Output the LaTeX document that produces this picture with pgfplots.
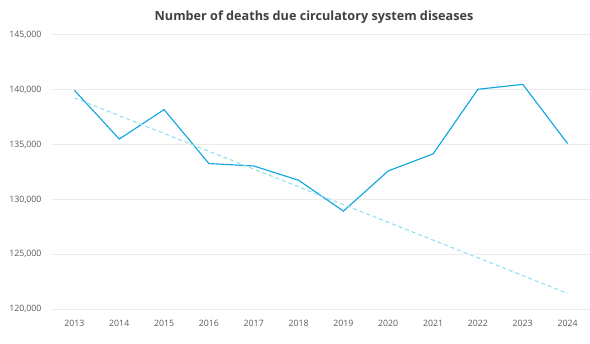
\documentclass[border=0pt]{standalone}
\usepackage{fontspec}
\setmainfont{Open Sans}
\usepackage{pgfplots}
\pgfplotsset{compat=1.18}
\definecolor{mainline}{HTML}{12A7DE}
\definecolor{trendline}{HTML}{8ADCF2}
\definecolor{gridgray}{HTML}{EBEBEB}
\definecolor{ticktext}{HTML}{595959}
\definecolor{titletext}{HTML}{404040}
\begin{document}
\begin{tikzpicture}[x=1bp,y=1bp]
\useasboundingbox (0,0) rectangle (590,343);
\begin{axis}[
  at={(52bp,33.7bp)}, anchor=south west,
  scale only axis,
  width=538bp, height=274.6bp,
  xmin=2012.5, xmax=2024.5,
  ymin=120000, ymax=145000,
  xtick={2013,...,2024},
  ytick={120000,125000,...,145000},
  axis line style={draw=none},
  major tick length=0pt,
  ymajorgrids, grid style={gridgray, line width=0.6pt},
  /pgf/number format/assume math mode=true,
  xticklabel style={font=\fontsize{8.8}{10}\selectfont, text=ticktext, /pgf/number format/1000 sep={}},
  yticklabel style={font=\fontsize{8.8}{10}\selectfont, text=ticktext, /pgf/number format/1000 sep={,}, /pgf/number format/fixed},
  scaled y ticks=false,
  xticklabel shift=7bp,
  yticklabel shift=7bp,
  clip=false,
]
% recorded yearly totals
\addplot[mainline, line width=1.15pt] coordinates {
  (2013,139940) (2014,135500) (2015,138180) (2016,133270) (2017,133050)
  (2018,131750) (2019,128940) (2020,132600) (2021,134150) (2022,140030)
  (2023,140480) (2024,135090)
};
% linear trend
\addplot[trendline, line width=1pt, dash pattern=on 4pt off 3pt] coordinates {
  (2013,139240) (2024,121450)
};
\end{axis}
\node[font=\bfseries\fontsize{12.7}{14}\selectfont, text=titletext] at (314,325.5) {Number of deaths due circulatory system diseases};
\end{tikzpicture}
\end{document}
